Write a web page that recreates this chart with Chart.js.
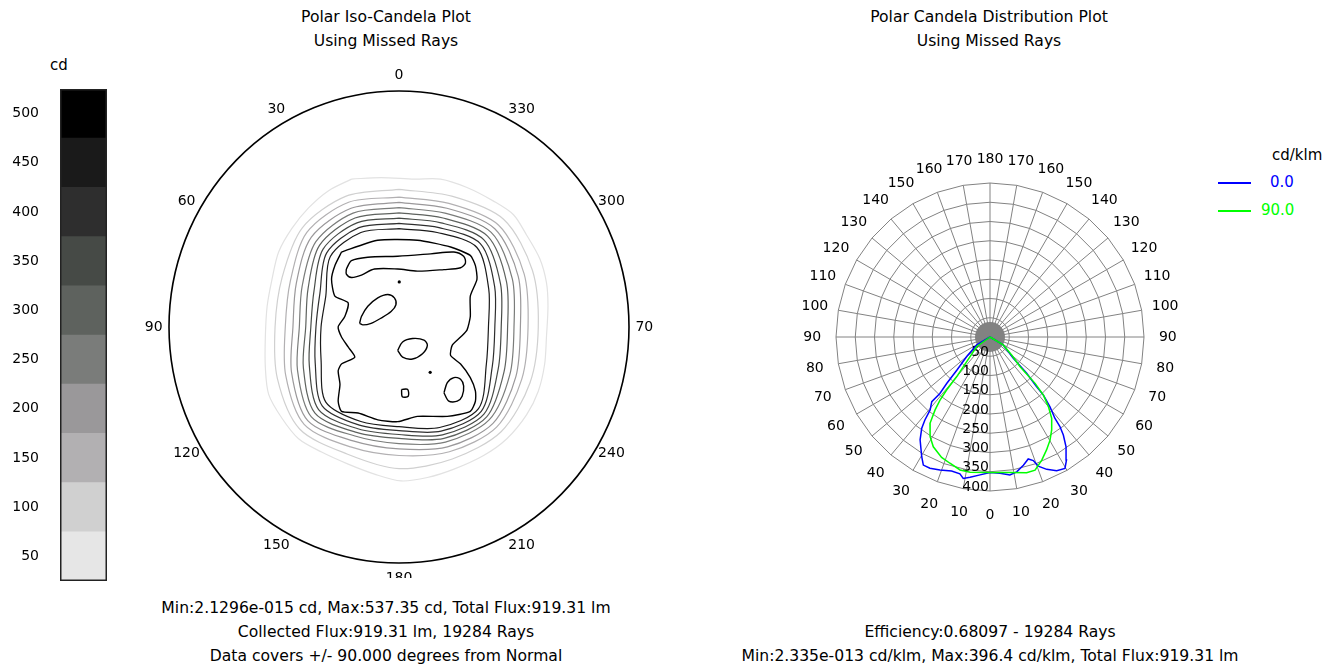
<!DOCTYPE html>
<html>
<head>
<meta charset="utf-8">
<script src="https://cdn.jsdelivr.net/npm/chart.js@4.4.0/dist/chart.umd.min.js"></script>
<style>
  body { margin: 0; background: #fff; width: 1342px; height: 669px; position: relative; overflow: hidden;
         font-family: "DejaVu Sans", sans-serif; color: #000; }
  .t { position: absolute; font-size: 15.6px; line-height: 24px; white-space: nowrap; text-align: center; transform: translateX(-50%); }
  .lg { position: absolute; font-size: 15px; white-space: nowrap; }
  .ln { position: absolute; height: 2px; }
  canvas { position: absolute; }
</style>
</head>
<body>
<div class="t" style="left:386px; top:5px;">Polar Iso-Candela Plot<br>Using Missed Rays</div>
<div class="t" style="left:989px; top:5px;">Polar Candela Distribution Plot<br>Using Missed Rays</div>
<div class="t" style="left:386px; top:596px;">Min:2.1296e-015 cd, Max:537.35 cd, Total Flux:919.31 lm<br>Collected Flux:919.31 lm, 19284 Rays<br>Data covers +/- 90.000 degrees from Normal</div>
<div class="t" style="left:990px; top:620px;">Efficiency:0.68097 - 19284 Rays<br>Min:2.335e-013 cd/klm, Max:396.4 cd/klm, Total Flux:919.31 lm</div>
<div class="lg" style="left:50px; top:56px;">cd</div>

<div class="lg" style="left:1272px; top:146px;">cd/klm</div>
<div class="ln" style="left:1218px; top:182px; width:33px; background:#0000ff;"></div>
<div class="lg" style="left:1270px; top:173px; color:#0000ff;">0.0</div>
<div class="ln" style="left:1218px; top:210px; width:33px; background:#00ff00;"></div>
<div class="lg" style="left:1261px; top:201px; color:#00ff00;">90.0</div>

<canvas id="bar" width="108" height="502" style="left:0px; top:84px;"></canvas>
<canvas id="iso" width="540" height="527" style="left:129px; top:51px;"></canvas>
<canvas id="cdp" width="408" height="408" style="left:786px; top:133px;"></canvas>

<script>
"use strict";

// colour bar levels (cd), top to bottom
const cbLevels = ['500', '450', '400', '350', '300', '250', '200', '150', '100', '50'];
const cbColors = ['#000000', '#1a1a1a', '#2e2e2e', '#464a46', '#5e625e', '#7a7c7a', '#9a989a', '#b2b0b2', '#d0d0d0', '#e6e6e6'];

// iso-candela plot: angle labels round the rim
const isoAngles = [0, 30, 60, 90, 120, 150, 180, 210, 240, 270, 300, 330];
const isoAngleText = ['0', '30', '60', '90', '120', '150', '180', '210', '240', '70', '300', '330'];

// outer contour, traced (degrees from normal, x right / y up)
const ring1X = [-18.6, -7.0, 6.0, 16.3, 26.6, 37.0, 44.8, 49.9, 55.1, 57.7, 58.3, 57.7, 57.0, 54.5, 49.9, 42.2, 33.1, 21.5, 11.1, 0.8, -9.6, -19.9, -30.3, -39.3, -45.8, -51.0, -52.3, -52.3, -51.6, -49.7, -47.1, -41.9, -35.4, -27.7];
const ring1Y = [56.4, 57.0, 56.4, 56.4, 53.2, 48.0, 42.8, 35.1, 26.0, 16.9, 7.9, -3.8, -14.1, -24.5, -33.5, -42.6, -49.0, -54.2, -57.4, -58.7, -56.1, -52.3, -47.7, -42.6, -34.8, -25.7, -15.4, -3.8, 7.9, 18.2, 28.6, 37.6, 45.4, 51.9];

// inner contours: radius (degrees) every 22.5 deg, clockwise from top
const ringDirs = [0, 22.5, 45, 67.5, 90, 112.5, 135, 157.5, 180, 202.5, 225, 247.5, 270, 292.5, 315, 337.5];
const ring2 = [52.5, 54, 58, 56.5, 54.5, 55.5, 56.5, 54.5, 54, 52.5, 55, 51.5, 48.5, 49.5, 53.5, 54];
const ring3 = [49.5, 51, 55, 53, 50.5, 52, 54, 51.5, 49, 49.5, 52.5, 48, 44.5, 46, 51, 51.5];
const ring4 = [47.5, 49, 53, 50.5, 47.5, 49.5, 52, 49.5, 46.5, 47, 50.5, 45.5, 41.5, 43.5, 48.5, 49];
const ring5 = [45.5, 47, 51, 48, 45, 47, 50, 47.5, 44.5, 45, 48.5, 43, 39, 41, 46, 47];
const ring6 = [43.5, 45, 49, 45.5, 42.5, 44.5, 48.5, 46, 42.5, 43.5, 46.5, 40.5, 36.5, 38.5, 44, 45];
const ring7 = [41.5, 43, 47, 43, 40, 42, 47, 44.5, 41, 42, 44.5, 38, 34.5, 36, 42, 43];
const ring8 = [39.5, 41, 45, 40.5, 37.5, 39.5, 45.5, 43, 39.5, 40.5, 42.5, 35.5, 32.5, 33.5, 40, 41];
const ring9 = [37.5, 39, 43, 38, 35, 37, 44, 41.5, 38, 39, 40.5, 33, 30.5, 31, 38, 39];
const ringColors = ['#e2e2e2', '#d0d0d0', '#b2b0b2', '#9a989a', '#7a7c7a', '#5e625e', '#464a46', '#2e2e2e', '#1a1a1a'];

// high contour and the islands inside it
const bigX = [-22.5, -8.3, 7.2, 20.2, 27.9, 29.9, 30.5, 27.9, 27.9, 26.6, 24.1, 20.8, 20.2, 24.1, 27.9, 29.9, 29.9, 27.9, 18.9, 7.2, -0.5, -8.3, -16.0, -22.5, -23.8, -23.1, -23.8, -22.5, -17.3, -19.9, -22.5, -23.8, -21.2, -19.9, -25.1, -26.4, -25.1];
const bigY = [28.6, 33.1, 33.1, 30.5, 27.3, 23.4, 18.2, 11.8, 4.0, -1.2, -3.8, -7.0, -10.9, -14.1, -19.3, -24.4, -28.3, -32.2, -34.1, -34.1, -36.1, -35.4, -32.8, -32.2, -28.3, -21.9, -16.7, -14.1, -11.5, -7.6, -3.8, 0.1, 4.0, 9.2, 11.8, 18.2, 23.4];
const lobeX = [-20.6, -18.6, -12.2, -0.5, 12.4, 21.5, 25.3, 26.0, 24.1, 17.6, 7.2, -0.5, -9.6, -14.7, -18.6, -20.6];
const lobeY = [22.1, 25.3, 26.6, 27.0, 27.9, 28.6, 27.0, 24.4, 22.6, 21.9, 21.3, 22.1, 22.1, 19.8, 18.9, 20.2];
const ellAX = [-15.4, -14.7, -12.2, -8.3, -4.4, -1.8, -1.2, -3.1, -7.0, -10.9, -14.1];
const ellAY = [1.4, 4.0, 7.9, 11.1, 12.4, 11.1, 8.5, 5.9, 3.4, 1.4, 0.8];
const ellBX = [-0.5, 1.4, 5.3, 9.8, 11.1, 9.2, 5.3, 1.4];
const ellBY = [-8.9, -5.7, -4.4, -5.0, -7.0, -10.2, -12.2, -11.5];
const ellCX = [17.6, 18.9, 21.5, 24.1, 25.3, 24.7, 22.8, 19.5];
const ellCY = [-25.1, -21.2, -19.3, -19.9, -22.5, -26.4, -28.3, -28.3];
const sqX = [1.0, 3.4, 3.6, 1.3];
const sqY = [-23.8, -23.8, -26.4, -26.6];
const dotX = [12.2, 0.1];
const dotY = [-17.3, 17.2];

// candela distribution: angle from nadir (deg, + to the right) and cd/klm
const blueAng = [-50, -59, -50, -45, -43, -41.6, -42, -39.4, -38.1, -36.8, -34.2, -29.7, -27.5, -24.6, -20.6, -16, -12.4, -10.7, -8.1, -4.1, 0, 4.2, 8.2, 11.2, 14.6, 17.4, 19.3, 20.5, 23.2, 26.5, 29.7, 31.9, 34.7, 36.8, 38, 38.6, 40.7, 42.6, 43.2, 45.3, 47.6, 59, 50];
const blueVal = [0, 40, 79, 122, 165, 196, 226, 245, 274, 296, 323, 358, 375, 375, 369, 362, 364, 374, 368, 359, 352, 355, 362, 357, 344, 332, 340, 358, 374, 388, 393, 376, 347, 318, 295, 270, 239, 205, 177, 134, 82, 40, 0];
const greenAng = [-50, -54, -43.4, -40, -39.3, -38.4, -37, -34.8, -31, -27.3, -21.9, -17.6, -12.7, -8.4, 0, 8.4, 15.1, 18.7, 22.8, 26.6, 30.2, 33.5, 37.2, 40, 42.6, 44.2, 45.3, 50.3, 59, 50];
const greenVal = [0, 43, 88, 135, 178, 209, 237, 273, 302, 321, 337, 344, 354, 355, 352, 356, 365, 365, 347, 328, 310, 290, 265, 236, 205, 168, 110, 73, 40, 0];

// grid of the candela plot
const cdRings = [50, 100, 150, 200, 250, 300, 350, 400];
const cdAngleTicks = [0, 10, 20, 30, 40, 50, 60, 70, 80, 90, 100, 110, 120, 130, 140, 150, 160, 170, 180];

const rad = d => d * Math.PI / 180;

function closed(xs, ys) {
  const pts = xs.map((x, i) => ({ x: x, y: ys[i] }));
  pts.push(pts[0]);
  return pts;
}

function ringPoints(radii) {
  const pts = radii.map((r, i) => ({ x: r * Math.sin(rad(ringDirs[i])), y: r * Math.cos(rad(ringDirs[i])) }));
  pts.push(pts[0]);
  return pts;
}

function curve(angs, vals) {
  return angs.map((a, i) => ({ x: vals[i] * Math.sin(rad(a)), y: -vals[i] * Math.cos(rad(a)) }));
}

function line(data, color, width, tension) {
  return { data: data, showLine: true, borderColor: color, borderWidth: width, pointRadius: 0, tension: tension, fill: false };
}

// 1: colour bar
const barOutline = {
  id: 'barOutline',
  afterDraw(chart) {
    const { ctx, chartArea: a } = chart;
    ctx.save();
    ctx.strokeStyle = '#222';
    ctx.lineWidth = 1.5;
    ctx.strokeRect(a.left + 0.75, a.top + 0.75, a.right - a.left - 1.5, a.bottom - a.top - 1.5);
    ctx.restore();
  }
};

new Chart(document.getElementById('bar'), {
  type: 'bar',
  data: {
    labels: cbLevels,
    datasets: [{ data: cbLevels.map(() => 1), backgroundColor: cbColors, borderWidth: 0, barPercentage: 1, categoryPercentage: 1 }]
  },
  options: {
    indexAxis: 'y',
    responsive: false,
    animation: false,
    events: [],
    layout: { padding: { top: 5, bottom: 5, left: 0, right: 1 } },
    plugins: { legend: { display: false }, tooltip: { enabled: false } },
    scales: {
      x: { display: false, min: 0, max: 1 },
      y: {
        grid: { display: false, drawTicks: false },
        border: { display: false },
        ticks: { color: '#000', padding: 21, font: { family: 'DejaVu Sans', size: 14 } },
        afterFit(s) { s.width = 60; s.paddingTop = 0; s.paddingBottom = 0; }
      }
    }
  },
  plugins: [barOutline]
});

// 2: iso-candela contours
const isoFrame = {
  id: 'isoFrame',
  beforeDatasetsDraw(chart) {
    const { ctx, scales: { x, y } } = chart;
    const cx = x.getPixelForValue(0), cy = y.getPixelForValue(0);
    const rx = x.getPixelForValue(90) - cx, ry = cy - y.getPixelForValue(90);
    ctx.save();
    ctx.beginPath();
    ctx.ellipse(cx, cy, rx, ry, 0, 0, 2 * Math.PI);
    ctx.strokeStyle = '#000';
    ctx.lineWidth = 1.6;
    ctx.stroke();
    ctx.fillStyle = '#000';
    ctx.font = '14px "DejaVu Sans"';
    ctx.textAlign = 'center';
    ctx.textBaseline = 'middle';
    isoAngles.forEach((a, i) => {
      ctx.fillText(isoAngleText[i], x.getPixelForValue(-96 * Math.sin(rad(a))), y.getPixelForValue(96 * Math.cos(rad(a))));
    });
    ctx.restore();
  }
};

const isoSets = [ringPoints(ring9), ringPoints(ring8), ringPoints(ring7), ringPoints(ring6), ringPoints(ring5),
                 ringPoints(ring4), ringPoints(ring3), ringPoints(ring2), closed(ring1X, ring1Y)]
  .map((d, i) => line(d, ringColors[8 - i], 1.2, 0.3));
isoSets.push(line(closed(bigX, bigY), '#000', 1.4, 0.2));
[[lobeX, lobeY], [ellAX, ellAY], [ellBX, ellBY], [ellCX, ellCY], [sqX, sqY]].forEach(p => {
  isoSets.push(line(closed(p[0], p[1]), '#000', 1.4, 0.3));
});
isoSets.push({ data: closed(dotX, dotY).slice(0, 2), showLine: false, pointRadius: 1.6, backgroundColor: '#000', borderWidth: 0 });

new Chart(document.getElementById('iso'), {
  type: 'scatter',
  data: { datasets: isoSets },
  options: {
    responsive: false,
    animation: false,
    events: [],
    layout: { padding: { top: 40, left: 40, right: 40, bottom: 15 } },
    plugins: { legend: { display: false }, tooltip: { enabled: false } },
    scales: {
      x: { type: 'linear', display: false, min: -90, max: 90 },
      y: { type: 'linear', display: false, min: -90, max: 90 }
    }
  },
  plugins: [isoFrame]
});

// 3: candela distribution
const cdMax = 400;
const cdGrid = {
  id: 'cdGrid',
  beforeDatasetsDraw(chart) {
    const { ctx, scales: { x, y } } = chart;
    const P = (r, d) => [x.getPixelForValue(r * Math.sin(rad(d))), y.getPixelForValue(-r * Math.cos(rad(d)))];
    const c = P(0, 0);
    ctx.save();
    ctx.strokeStyle = '#828282';
    ctx.lineWidth = 1;
    cdRings.forEach(v => {
      ctx.beginPath();
      for (let k = 0; k <= 36; k++) {
        const p = P(v, k * 10);
        if (k === 0) ctx.moveTo(p[0], p[1]); else ctx.lineTo(p[0], p[1]);
      }
      ctx.stroke();
    });
    for (let k = 0; k < 36; k++) {
      const p = P(cdMax, k * 10);
      ctx.beginPath();
      ctx.moveTo(c[0], c[1]);
      ctx.lineTo(p[0], p[1]);
      ctx.stroke();
    }
    ctx.beginPath();
    ctx.arc(c[0], c[1], 15, 0, 2 * Math.PI);
    ctx.fillStyle = '#828282';
    ctx.fill();

    ctx.fillStyle = '#000';
    ctx.font = '14px "DejaVu Sans"';
    ctx.textAlign = 'right';
    ctx.textBaseline = 'middle';
    cdRings.forEach(v => {
      const p = P(v, 0);
      ctx.fillText(String(v), p[0] - 1, p[1] - 4);
    });
    ctx.textAlign = 'center';
    cdAngleTicks.forEach(a => {
      const sides = (a === 0 || a === 180) ? [a] : [a, -a];
      sides.forEach(s => {
        const p = P(462, s);
        ctx.fillText(String(a), p[0], p[1]);
      });
    });
    ctx.restore();
  }
};

new Chart(document.getElementById('cdp'), {
  type: 'scatter',
  data: {
    datasets: [
      line(curve(greenAng, greenVal), '#00ff00', 1.5, 0),
      line(curve(blueAng, blueVal), '#0000ff', 1.5, 0)
    ]
  },
  options: {
    responsive: false,
    animation: false,
    events: [],
    layout: { padding: 50 },
    plugins: { legend: { display: false }, tooltip: { enabled: false } },
    scales: {
      x: { type: 'linear', display: false, min: -cdMax, max: cdMax },
      y: { type: 'linear', display: false, min: -cdMax, max: cdMax }
    }
  },
  plugins: [cdGrid]
});
</script>
</body>
</html>
